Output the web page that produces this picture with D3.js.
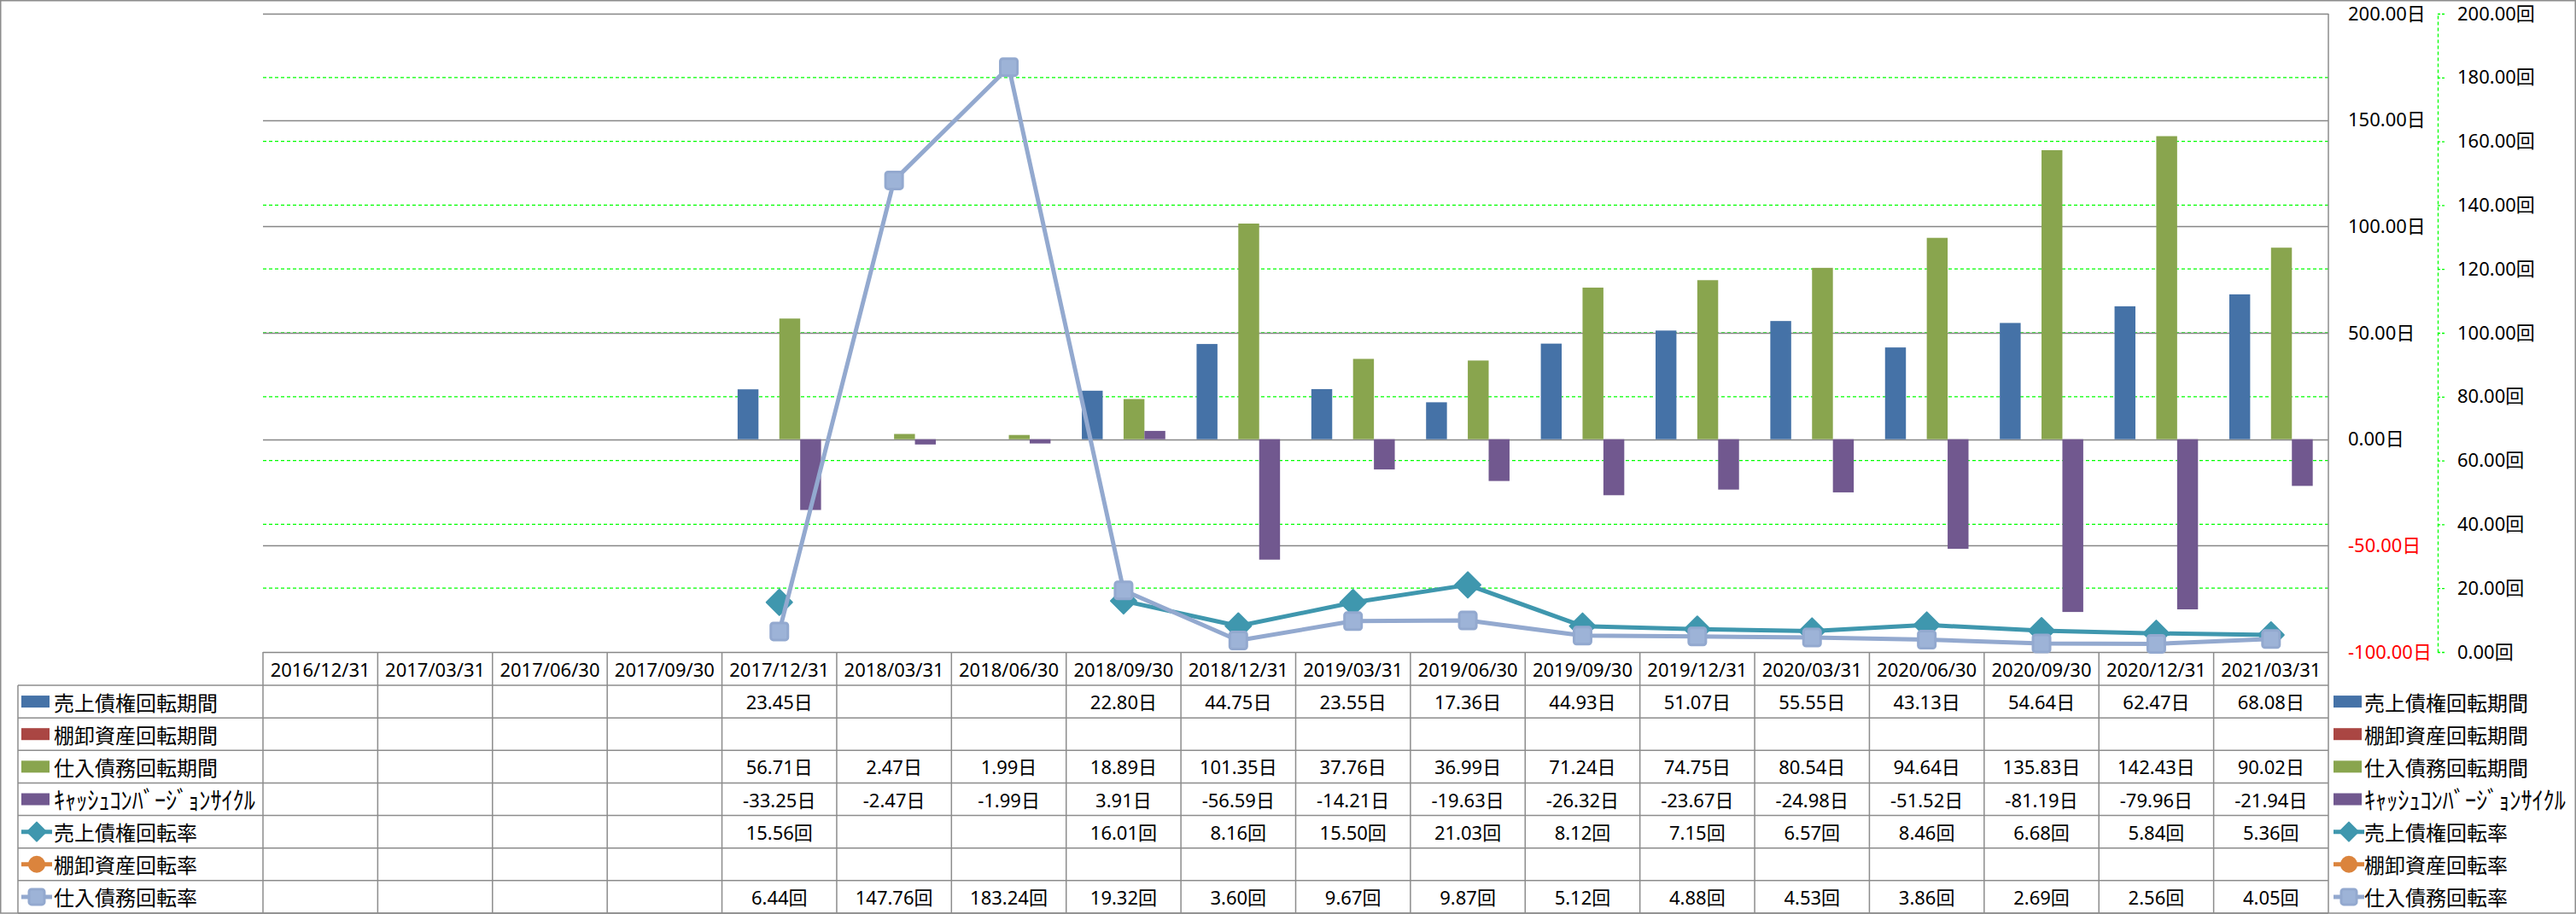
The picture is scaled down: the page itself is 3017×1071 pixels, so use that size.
<!DOCTYPE html>
<html>
<head>
<meta charset="utf-8">
<style>
body { margin: 0; background: #fff; }
text { font-family: "Noto Sans CJK JP", "Noto Sans", sans-serif; }
</style>
</head>
<body>
<script src="https://cdn.jsdelivr.net/npm/d3@7/dist/d3.min.js"></script>
<div id="chart"></div>
<script>

// ---- data ----
const dates = ["2016/12/31","2017/03/31","2017/06/30","2017/09/30","2017/12/31","2018/03/31",
  "2018/06/30","2018/09/30","2018/12/31","2019/03/31","2019/06/30","2019/09/30",
  "2019/12/31","2020/03/31","2020/06/30","2020/09/30","2020/12/31","2021/03/31"];

const arDays   = [null,null,null,null,23.45,null,null,22.80,44.75,23.55,17.36,44.93,51.07,55.55,43.13,54.64,62.47,68.08];
const invDays  = [null,null,null,null,null,null,null,null,null,null,null,null,null,null,null,null,null,null];
const apDays   = [null,null,null,null,56.71,2.47,1.99,18.89,101.35,37.76,36.99,71.24,74.75,80.54,94.64,135.83,142.43,90.02];
const cccDays  = [null,null,null,null,-33.25,-2.47,-1.99,3.91,-56.59,-14.21,-19.63,-26.32,-23.67,-24.98,-51.52,-81.19,-79.96,-21.94];
const arTurn   = [null,null,null,null,15.56,null,null,16.01,8.16,15.50,21.03,8.12,7.15,6.57,8.46,6.68,5.84,5.36];
const invTurn  = [null,null,null,null,null,null,null,null,null,null,null,null,null,null,null,null,null,null];
const apTurn   = [null,null,null,null,6.44,147.76,183.24,19.32,3.60,9.67,9.87,5.12,4.88,4.53,3.86,2.69,2.56,4.05];

const dayTicks  = [200, 150, 100, 50, 0, -50, -100];
const turnTicks = [0, 20, 40, 60, 80, 100, 120, 140, 160, 180, 200];

const series = [
  {name: "売上債権回転期間", values: arDays,  unit: "日", kind: "bar",  color: "#4572A7"},
  {name: "棚卸資産回転期間", values: invDays, unit: "日", kind: "bar",  color: "#AA4643"},
  {name: "仕入債務回転期間", values: apDays,  unit: "日", kind: "bar",  color: "#89A54E"},
  {name: "ｷｬｯｼｭｺﾝﾊﾞｰｼﾞｮﾝｻｲｸﾙ", values: cccDays, unit: "日", kind: "bar", color: "#71588F", wide: 236},
  {name: "売上債権回転率", values: arTurn,  unit: "回", kind: "line", marker: "diamond", color: "#3F97AE"},
  {name: "棚卸資産回転率", values: invTurn, unit: "回", kind: "line", marker: "circle",  color: "#DB843D"},
  {name: "仕入債務回転率", values: apTurn,  unit: "回", kind: "line", marker: "square",  color: "#93A9CF"}
];

// ---- layout ----
const W = 3017, H = 1071;
const plotL = 308, plotR = 2727, plotT = 16, plotB = 764;
const headB = 803, tableB = 1070, labelL = 21;
const rowH = (tableB - headB) / series.length;
const numFont = "'Noto Sans', 'Noto Sans CJK JP', sans-serif";

const svg = d3.select("#chart").append("svg")
    .attr("width", W).attr("height", H);

const x = d3.scaleBand().domain(dates).range([plotL, plotR]).padding(0);
const barSeries = series.filter(s => s.kind === "bar");
const xs = d3.scaleBand().domain(barSeries.map(s => s.name))
    .range([0, x.bandwidth()]).paddingInner(0).paddingOuter(0.75);
const yL = d3.scaleLinear().domain([-100, 200]).range([plotB, plotT]);
const yR = d3.scaleLinear().domain([0, 200]).range([plotB, plotT]);

// hyphen minus like the original, not the unicode minus d3 uses
const fmt = v => d3.format(".2f")(v).replace("\u2212", "-");

// gridlines: green dashed for secondary axis, gray for primary
svg.append("g").selectAll("line")
  .data(turnTicks.filter(t => t > 0 && t < 200))
  .join("line")
    .attr("x1", plotL).attr("x2", plotR)
    .attr("y1", d => yR(d)).attr("y2", d => yR(d))
    .attr("stroke", "#00ff00").attr("stroke-width", 1.3)
    .attr("stroke-dasharray", "4,3");

svg.append("g").selectAll("line")
  .data(dayTicks)
  .join("line")
    .attr("x1", plotL).attr("x2", plotR)
    .attr("y1", d => Math.round(yL(d)) + 0.5).attr("y2", d => Math.round(yL(d)) + 0.5)
    .attr("stroke", "#868686").attr("stroke-width", 1.5);

// bars
barSeries.forEach(s => {
  svg.append("g").selectAll("rect")
    .data(dates.map((d, i) => ({d, v: s.values[i]})).filter(p => p.v != null))
    .join("rect")
      .attr("x", p => x(p.d) + xs(s.name))
      .attr("width", xs.bandwidth())
      .attr("y", p => yL(Math.max(0, p.v)))
      .attr("height", p => Math.abs(yL(p.v) - yL(0)))
      .attr("fill", s.color);
});

// lines + markers
function drawMarker(g, type, color, size) {
  if (type === "diamond") {
    const r = size / 2;
    g.append("path").attr("d", `M0,${-r}L${r},0L0,${r}L${-r},0Z`)
      .attr("fill", color).attr("stroke", color).attr("stroke-width", 2).attr("stroke-linejoin", "round");
  } else if (type === "square") {
    const r = size / 2;
    g.append("rect").attr("x", -r).attr("y", -r).attr("width", size).attr("height", size)
      .attr("rx", 3).attr("fill", "#9db3d7").attr("stroke", color).attr("stroke-width", 3);
  } else {
    g.append("circle").attr("r", size / 2).attr("fill", color);
  }
}

const line = d3.line()
    .defined(p => p.v != null)
    .x(p => x(p.d) + x.bandwidth() / 2)
    .y(p => yR(p.v));

series.filter(s => s.kind === "line").forEach(s => {
  const pts = dates.map((d, i) => ({d, v: s.values[i]}));
  svg.append("path").datum(pts)
    .attr("d", line)
    .attr("fill", "none").attr("stroke", s.color)
    .attr("stroke-width", 5).attr("stroke-linejoin", "round");
  pts.filter(p => p.v != null).forEach(p => {
    const g = svg.append("g")
      .attr("transform", `translate(${x(p.d) + x.bandwidth() / 2},${yR(p.v)})`);
    drawMarker(g, s.marker, s.color, s.marker === "diamond" ? 30 : 20);
  });
});

// right-hand axes
const axL = svg.append("g")
    .attr("transform", `translate(${plotR},0)`)
    .call(d3.axisRight(yL).tickValues(dayTicks).tickSize(0).tickPadding(23)
      .tickFormat(d => fmt(d) + "日"));
axL.select(".domain").remove();
axL.selectAll("text")
    .style("font-family", numFont)
    .style("font-size", "22px")
    .attr("fill", d => d < 0 ? "#ff0000" : "#000");

const axR = svg.append("g")
    .attr("transform", "translate(2855,0)")
    .call(d3.axisRight(yR).tickValues(turnTicks).tickSize(8).tickSizeOuter(0).tickPadding(15)
      .tickFormat(d => fmt(d) + "回"));
axR.select(".domain").attr("stroke", "#00ff00").attr("stroke-width", 1.3).attr("stroke-dasharray", "4,3");
axR.selectAll(".tick line").attr("stroke", "#00ff00").attr("stroke-width", 1.3).attr("stroke-dasharray", "3,2");
axR.selectAll("text")
    .style("font-family", numFont)
    .style("font-size", "22px")
    .attr("fill", "#000");

// ---- data table ----
const tbl = svg.append("g");
const gray = "#8c8c8c";

// horizontal rules
d3.range(series.length + 1).forEach(i => {
  const yy = headB + i * rowH;
  tbl.append("line").attr("x1", labelL).attr("x2", plotR)
    .attr("y1", yy).attr("y2", yy).attr("stroke", gray).attr("stroke-width", 1.5);
});
// vertical rules
tbl.append("line").attr("x1", labelL).attr("x2", labelL)
  .attr("y1", headB).attr("y2", tableB).attr("stroke", gray).attr("stroke-width", 1.5);
dates.forEach(d => {
  tbl.append("line").attr("x1", x(d)).attr("x2", x(d))
    .attr("y1", plotB).attr("y2", tableB).attr("stroke", gray).attr("stroke-width", 1.5);
});
svg.append("line").attr("x1", plotR).attr("x2", plotR)
  .attr("y1", plotT).attr("y2", tableB).attr("stroke", gray).attr("stroke-width", 1.5);

// header dates
tbl.selectAll("text.hd").data(dates).join("text")
  .attr("class", "hd")
  .attr("x", d => x(d) + x.bandwidth() / 2)
  .attr("y", (plotB + headB) / 2)
  .attr("text-anchor", "middle").attr("dominant-baseline", "central")
  .style("font-family", numFont)
  .style("font-size", "22px").text(d => d);

// legend key drawing used in table and right legend
function drawKey(g, s) {
  if (s.kind === "bar") {
    g.append("rect").attr("x", 0).attr("y", -7).attr("width", 33).attr("height", 14).attr("fill", s.color);
  } else {
    g.append("line").attr("x1", 0).attr("x2", 36).attr("y1", 0).attr("y2", 0)
      .attr("stroke", s.color).attr("stroke-width", 5);
    const m = g.append("g").attr("transform", "translate(18,0)");
    drawMarker(m, s.marker, s.color, s.marker === "diamond" ? 22 : (s.marker === "circle" ? 20 : 18));
  }
}

// series name; the half-width katakana one is drawn larger then squeezed to its width
function nameText(parent, x0, cy, s) {
  const t = parent.append("text").attr("dominant-baseline", "central").text(s.name);
  if (!s.wide) {
    t.attr("x", x0).attr("y", cy).style("font-size", "24px");
    return;
  }
  t.style("font-size", "29px");
  const k = s.wide / t.node().getComputedTextLength();
  t.attr("transform", `translate(${x0},${cy}) scale(${k},1)`);
}

series.forEach((s, r) => {
  const cy = headB + (r + 0.5) * rowH;
  // row label
  const key = tbl.append("g").attr("transform", `translate(25,${cy})`);
  drawKey(key, s);
  nameText(tbl, 63, cy, s);
  // cells
  s.values.forEach((v, i) => {
    if (v == null) return;
    tbl.append("text")
      .attr("x", x(dates[i]) + x.bandwidth() / 2).attr("y", cy)
      .attr("text-anchor", "middle").attr("dominant-baseline", "central")
      .style("font-family", numFont)
      .style("font-size", "22px").text(fmt(v) + s.unit);
  });
  // right legend
  const rk = svg.append("g").attr("transform", `translate(2733,${cy})`);
  drawKey(rk, s);
  nameText(svg, 2769, cy, s);
});

// outer chart border
svg.append("rect").attr("x", 0.75).attr("y", 0.75).attr("width", W - 1.5).attr("height", tableB - 0.75)
  .attr("fill", "none").attr("stroke", gray).attr("stroke-width", 1.5);

</script>
</body>
</html>
